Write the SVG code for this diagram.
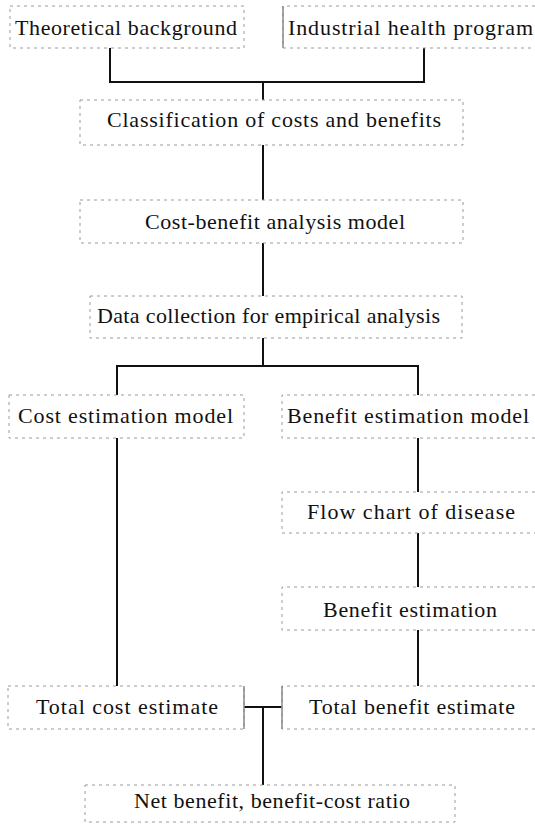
<svg xmlns="http://www.w3.org/2000/svg" width="535" height="826" viewBox="0 0 535 826">
<style>
.box{fill:none;stroke:#9a9a9a;stroke-width:1;stroke-dasharray:3 4}
.bar{stroke:#888;stroke-width:1.5;fill:none}
.t{font-family:"Liberation Serif","Times New Roman",serif;font-size:22px;fill:#111}
.c{fill:none;stroke:#111;stroke-width:2}
</style>
<rect width="535" height="826" fill="#fff"/>
<g id="connectors">
<path class="c" d="M110 48V82H424V48M263 82V100"/>
<path class="c" d="M263 145V200"/>
<path class="c" d="M263 243V296"/>
<path class="c" d="M263 338V366M117 395V366H418V395"/>
<path class="c" d="M117 438V686"/>
<path class="c" d="M418 438V492"/>
<path class="c" d="M418 533V587"/>
<path class="c" d="M418 630V686"/>
<path class="c" d="M244 707H282M263 707V785"/>
</g>
<g id="n1"><rect class="box" x="10" y="6" width="234" height="42"/><text class="t" x="15" y="35" textLength="222" lengthAdjust="spacing">Theoretical background</text></g>
<g id="n2"><path class="box" d="M535 6H283V48H535"/><line class="bar" x1="283" y1="6" x2="283" y2="48"/><text class="t" x="288" y="35" textLength="245" lengthAdjust="spacing">Industrial health program</text></g>
<g id="n3"><rect class="box" x="80" y="100" width="383" height="45"/><text class="t" x="107" y="127" textLength="334" lengthAdjust="spacing">Classification of costs and benefits</text></g>
<g id="n4"><rect class="box" x="80" y="200" width="383" height="43"/><text class="t" x="145" y="229" textLength="260" lengthAdjust="spacing">Cost-benefit analysis model</text></g>
<g id="n5"><rect class="box" x="90" y="296" width="372" height="42"/><text class="t" x="97" y="323" textLength="343" lengthAdjust="spacing">Data collection for empirical analysis</text></g>
<g id="n6"><rect class="box" x="9" y="395" width="235" height="43"/><text class="t" x="18" y="423" textLength="215" lengthAdjust="spacing">Cost estimation model</text></g>
<g id="n7"><path class="box" d="M535 395H282V438H535"/><text class="t" x="287" y="423" textLength="242" lengthAdjust="spacing">Benefit estimation model</text></g>
<g id="n8"><path class="box" d="M535 492H282V533H535"/><text class="t" x="307" y="519" textLength="208" lengthAdjust="spacing">Flow chart of disease</text></g>
<g id="n9"><path class="box" d="M535 587H282V630H535"/><text class="t" x="323" y="617" textLength="174" lengthAdjust="spacing">Benefit estimation</text></g>
<g id="n10"><rect class="box" x="8" y="686" width="236" height="43"/><line class="bar" x1="244" y1="686" x2="244" y2="729"/><text class="t" x="36" y="714" textLength="182" lengthAdjust="spacing">Total cost estimate</text></g>
<g id="n11"><path class="box" d="M535 686H282V729H535"/><line class="bar" x1="282" y1="686" x2="282" y2="729"/><text class="t" x="309" y="714" textLength="206" lengthAdjust="spacing">Total benefit estimate</text></g>
<g id="n12"><rect class="box" x="85" y="785" width="370" height="37"/><text class="t" x="134" y="808" textLength="276" lengthAdjust="spacing">Net benefit, benefit-cost ratio</text></g>
</svg>
